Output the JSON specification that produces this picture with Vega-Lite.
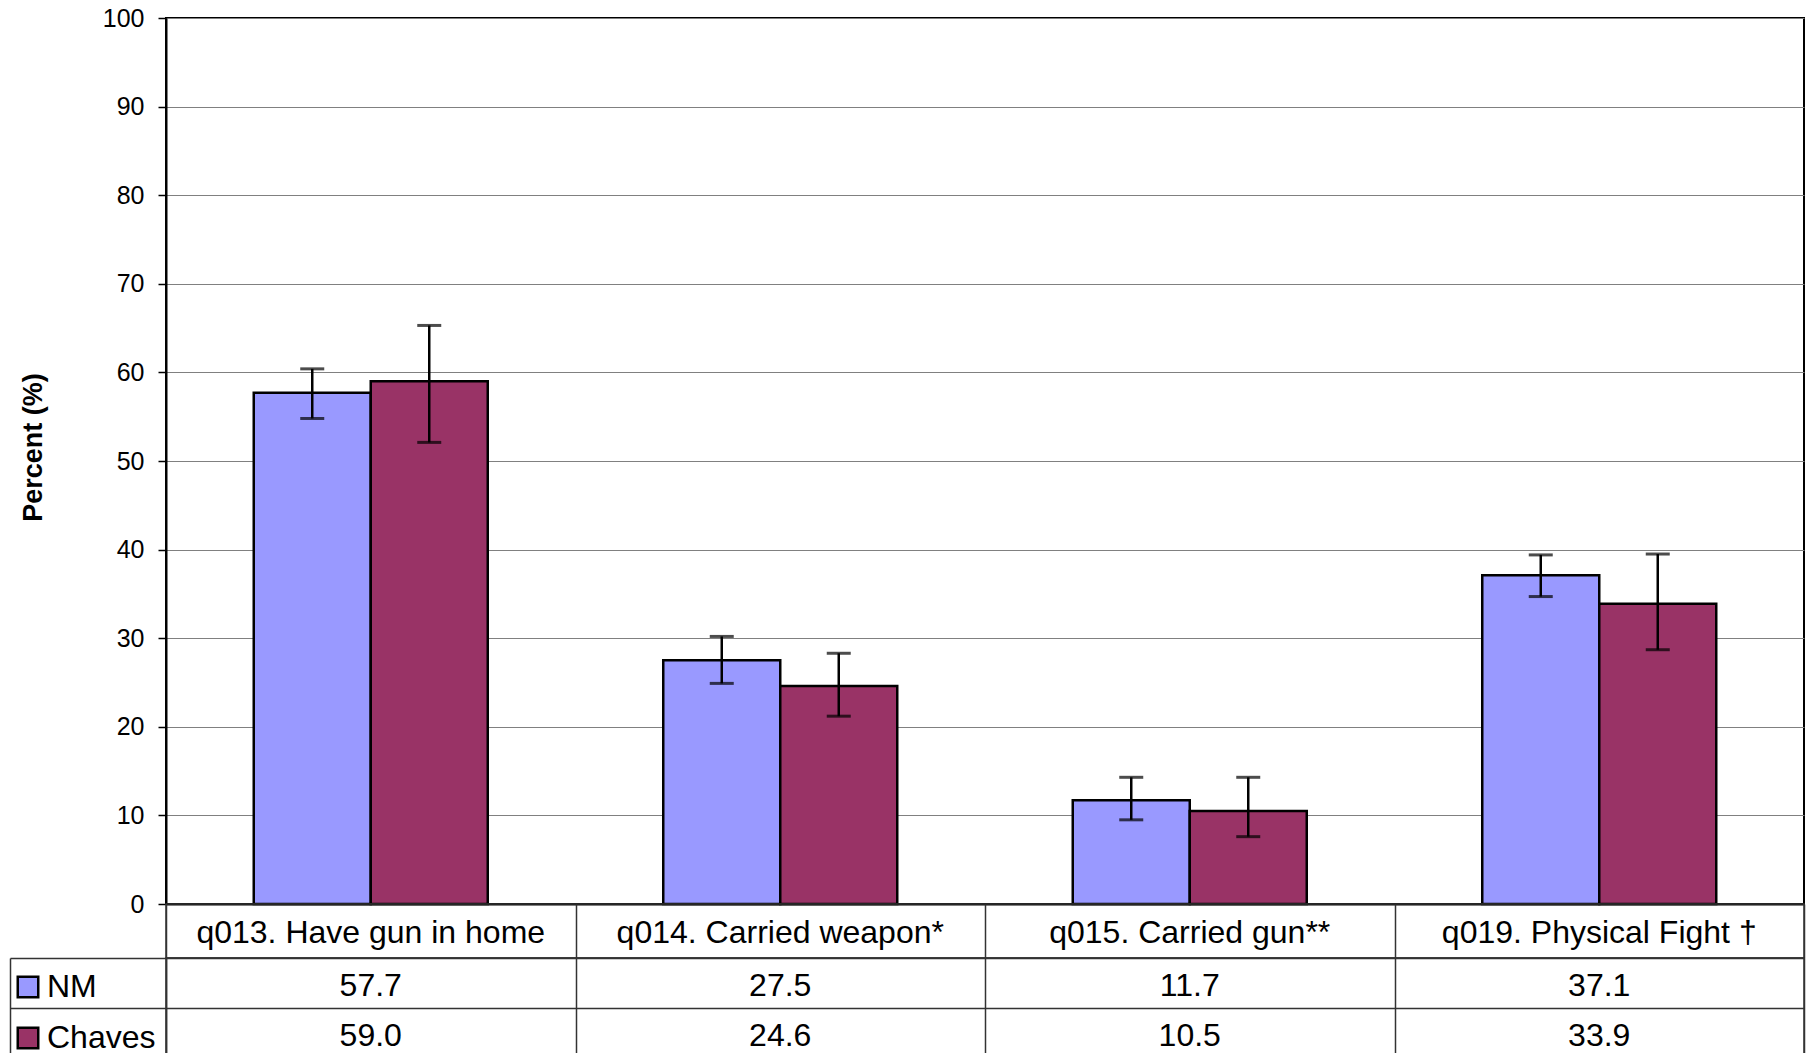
{
  "$schema": "https://vega.github.io/schema/vega-lite/v6.json",
  "padding": {"left": 8, "top": 5, "right": 7, "bottom": 0},
  "background": "white",
  "config": {
    "font": "Liberation Sans",
    "view": {"stroke": null},
    "axis": {"labelFont": "Liberation Sans", "titleFont": "Liberation Sans"},
    "legend": {"labelFont": "Liberation Sans"},
    "text": {"font": "Liberation Sans"}
  },
  "datasets": {
    "d": [
      {"cat": "q013. Have gun in home", "series": "NM", "value": 57.7, "lo": 54.8, "hi": 60.4},
      {"cat": "q013. Have gun in home", "series": "Chaves", "value": 59.0, "lo": 52.1, "hi": 65.3},
      {"cat": "q014. Carried weapon*", "series": "NM", "value": 27.5, "lo": 24.9, "hi": 30.2},
      {"cat": "q014. Carried weapon*", "series": "Chaves", "value": 24.6, "lo": 21.2, "hi": 28.3},
      {"cat": "q015. Carried gun**", "series": "NM", "value": 11.7, "lo": 9.5, "hi": 14.3},
      {"cat": "q015. Carried gun**", "series": "Chaves", "value": 10.5, "lo": 7.6, "hi": 14.3},
      {"cat": "q019. Physical Fight †", "series": "NM", "value": 37.1, "lo": 34.7, "hi": 39.4},
      {"cat": "q019. Physical Fight †", "series": "Chaves", "value": 33.9, "lo": 28.7, "hi": 39.5}
    ]
  },
  "spacing": 0,
  "bounds": "flush",
  "vconcat": [
    {
      "width": 1638,
      "height": 886,
      "data": {"name": "d"},
      "view": {"stroke": "black", "strokeWidth": 2},
      "encoding": {
        "x": {
          "field": "cat", "type": "nominal", "sort": null,
          "scale": {"paddingInner": 0, "paddingOuter": 0},
          "axis": {"title": null, "labels": false, "ticks": false, "domain": true, "domainColor": "black", "domainWidth": 2, "grid": false}
        },
        "xOffset": {
          "field": "series", "type": "nominal", "sort": ["NM", "Chaves"],
          "scale": {"paddingInner": 0, "paddingOuter": 0.75}
        }
      },
      "layer": [
        {
          "mark": {"type": "bar", "stroke": "black", "strokeWidth": 2.5},
          "encoding": {
            "y": {
              "field": "value", "type": "quantitative", "title": "Percent (%)",
              "scale": {"domain": [0, 100], "nice": false},
              "axis": {
                "values": [0, 10, 20, 30, 40, 50, 60, 70, 80, 90, 100],
                "grid": true, "gridColor": "#808080", "gridWidth": 1,
                "tickSize": 8, "tickColor": "black", "tickWidth": 1.5,
                "domainColor": "black", "domainWidth": 2,
                "labelFontSize": 25, "labelColor": "black", "labelPadding": 14,
                "titleFontSize": 27, "titleFontWeight": "bold", "titleColor": "black",
                "titlePadding": 55, "titleY": 429
              }
            },
            "color": {
              "field": "series", "type": "nominal",
              "scale": {"domain": ["NM", "Chaves"], "range": ["#9999FF", "#993366"]},
              "legend": {
                "orient": "none", "legendX": -154, "legendY": 953, "title": null,
                "direction": "vertical",
                "symbolType": "square", "symbolSize": 420, "symbolStrokeColor": "black",
                "symbolStrokeWidth": 2.5, "symbolOpacity": 1,
                "labelFontSize": 32, "labelColor": "black", "labelOffset": 3,
                "rowPadding": 19, "padding": 0
              }
            }
          }
        },
        {
          "mark": {"type": "rule", "color": "black", "strokeWidth": 2.5},
          "encoding": {
            "y": {"field": "lo", "type": "quantitative", "title": "Percent (%)"},
            "y2": {"field": "hi"}
          }
        },
        {
          "mark": {"type": "tick", "orient": "horizontal", "color": "black", "thickness": 3, "size": 24},
          "encoding": {"y": {"field": "lo", "type": "quantitative", "title": "Percent (%)"}}
        },
        {
          "mark": {"type": "tick", "orient": "horizontal", "color": "black", "thickness": 3, "size": 24},
          "encoding": {"y": {"field": "hi", "type": "quantitative", "title": "Percent (%)"}}
        }
      ]
    },
    {
      "width": 1638,
      "height": 54,
      "data": {"name": "d"},
      "transform": [{"filter": "datum.series === 'NM'"}],
      "view": {"stroke": "#333", "strokeWidth": 1.5},
      "mark": {"type": "text", "fontSize": 32, "color": "black", "baseline": "middle", "dy": 2},
      "encoding": {
        "x": {
          "field": "cat", "type": "nominal", "sort": null,
          "scale": {"paddingInner": 0, "paddingOuter": 0},
          "axis": {"orient": "top", "title": null, "labels": false, "ticks": false, "domain": false, "grid": true, "tickBand": "extent", "gridColor": "#333", "gridWidth": 1.5}
        },
        "y": {"datum": "cat", "type": "nominal", "axis": null},
        "text": {"field": "cat"}
      }
    },
    {
      "width": 1638,
      "height": 100,
      "data": {"name": "d"},
      "view": {"stroke": "#333", "strokeWidth": 1.5},
      "encoding": {
        "x": {
          "field": "cat", "type": "nominal", "sort": null,
          "scale": {"paddingInner": 0, "paddingOuter": 0},
          "axis": {"title": null, "labels": false, "ticks": false, "domain": false, "grid": true, "tickBand": "extent", "gridColor": "#333", "gridWidth": 1.5}
        }
      },
      "layer": [
        {
          "mark": {"type": "text", "fontSize": 32, "color": "black", "baseline": "middle", "dy": 3},
          "encoding": {
            "y": {
              "field": "series", "type": "nominal", "sort": ["NM", "Chaves"],
              "scale": {"type": "band", "paddingInner": 0, "paddingOuter": 0},
              "axis": {"title": null, "labels": false, "ticks": true, "tickSize": 156, "bandPosition": 0, "tickColor": "#333", "tickWidth": 1.5, "domain": true, "domainColor": "#333", "domainWidth": 1.5, "grid": true, "gridColor": "#333", "gridWidth": 1.5}
            },
            "text": {"field": "value", "type": "quantitative", "format": ".1f"}
          }
        },
        {
          "mark": {"type": "text", "opacity": 0},
          "encoding": {
            "y": {
              "field": "series", "type": "nominal", "sort": ["NM", "Chaves"],
              "scale": {"type": "band", "paddingInner": 0, "paddingOuter": 0},
              "axis": {"orient": "left", "offset": 156, "title": null, "labels": false, "ticks": false, "grid": false, "domain": true, "domainColor": "#333", "domainWidth": 1.5}
            },
            "text": {"value": ""}
          }
        }
      ],
      "resolve": {"scale": {"y": "independent"}, "axis": {"y": "independent"}}
    }
  ]
}
